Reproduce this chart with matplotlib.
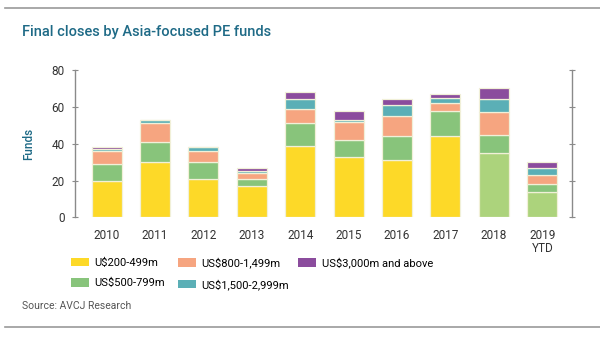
import matplotlib.pyplot as plt
import numpy as np
from matplotlib.lines import Line2D
from matplotlib.patches import Patch

plt.rcParams['font.family'] = ['Roboto', 'DejaVu Sans']

years = ['2010', '2011', '2012', '2013', '2014', '2015', '2016', '2017', '2018', '2019\nYTD']
labels = ['U$200-499m', 'US$500-799m', 'US$800-1,499m', 'US$1,500-2,999m', 'US$3,000m and above']

# funds closed per size band
band_200 = [20, 30, 21, 17, 39, 33, 31, 44, 35, 14]
band_500 = [9, 11, 9, 4, 12, 9, 13, 14, 10, 4]
band_800 = [7, 10, 6, 3, 8, 10, 11, 4, 12, 5]
band_1500 = [1, 2, 2, 1, 5, 1, 6, 3, 7, 4]
band_3000 = [1, 0, 0, 2, 4, 5, 3, 2, 6, 3]

colors = ['#fdd928', '#88c47b', '#f6a580', '#5bafb6', '#8b4c9d']
light_green = '#acd37c'
teal_text = '#1e6a86'
axis_grey = '#8a8a8a'

fig = plt.figure(figsize=(6, 3.37), dpi=100)
ax = fig.add_axes([0.125, 0.3546, 0.828, 0.4377])

x = np.arange(len(years))
bottom = np.zeros(len(years))
for i, vals in enumerate([band_200, band_500, band_800, band_1500, band_3000]):
    vals = np.array(vals, dtype=float)
    cols = [colors[i]] * len(years)
    if i == 0:
        # 2018 and 2019 shown in a lighter green
        cols[8] = light_green
        cols[9] = light_green
    ax.bar(x, vals, 0.62, bottom=bottom, color=cols,
           edgecolor='#f1f0d8', linewidth=0.9)
    bottom += vals

ax.set_ylim(0, 80)
ax.set_xlim(-0.655, 9.61)
ax.set_yticks([0, 20, 40, 60, 80])
ax.set_xticks(x)
ax.set_xticklabels(years, fontsize=8.5, color='#333333', linespacing=1.0)

for s in ['top', 'bottom']:
    ax.spines[s].set_visible(False)
for s in ['left', 'right']:
    ax.spines[s].set_color(axis_grey)
    ax.spines[s].set_linewidth(1.0)

ax.tick_params(axis='y', which='both', direction='inout', length=5,
               color=axis_grey, labelsize=8.5, labelcolor='#333333',
               right=True, pad=5)
ax.tick_params(axis='x', length=0, pad=8)
ax.set_ylabel('Funds', fontsize=8.5, color=teal_text, fontweight='medium', labelpad=12)

fig.text(0.037, 0.905, 'Final closes by Asia-focused PE funds',
         fontsize=10.5, color=teal_text, fontweight='medium', va='center')
fig.text(0.037, 0.093, 'Source: AVCJ Research', fontsize=7.5,
         color='#555555', va='center')

# horizontal rules above and below the chart block
fig.add_artist(Line2D([0.008, 1.0], [0.975, 0.975], color='#999999', lw=1.2))
fig.add_artist(Line2D([0.008, 1.0], [0.030, 0.030], color='#999999', lw=1.2))

# legend in three columns placed side by side
handles = [Patch(facecolor=c) for c in colors]
groups = [(0.119, [0, 1]), (0.297, [2, 3]), (0.497, [4])]
for xpos, idx in groups:
    fig.legend([handles[k] for k in idx], [labels[k] for k in idx],
               loc='upper left', bbox_to_anchor=(xpos, 0.236), frameon=False,
               fontsize=8, handlelength=1.6, handleheight=0.75,
               handletextpad=0.5, labelspacing=0.95,
               borderaxespad=0, borderpad=0)

fig.savefig('out.png', dpi=100)
